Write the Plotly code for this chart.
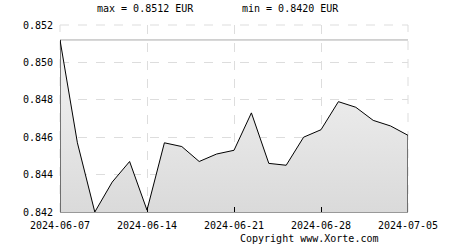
import plotly.graph_objects as go

dates = ["2024-06-07", "2024-06-10", "2024-06-11", "2024-06-12", "2024-06-13",
         "2024-06-14", "2024-06-17", "2024-06-18", "2024-06-19", "2024-06-20",
         "2024-06-21", "2024-06-24", "2024-06-25", "2024-06-26", "2024-06-27",
         "2024-06-28", "2024-07-01", "2024-07-02", "2024-07-03", "2024-07-04",
         "2024-07-05"]
rates = [0.8512, 0.8457, 0.8420, 0.8436, 0.8447,
         0.8421, 0.8457, 0.8455, 0.8447, 0.8451,
         0.8453, 0.8473, 0.8446, 0.8445, 0.8460,
         0.8464, 0.8479, 0.8476, 0.8469, 0.8466,
         0.8461]
tick_dates = ["2024-06-07", "2024-06-14", "2024-06-21", "2024-06-28", "2024-07-05"]
y_ticks = [0.842, 0.844, 0.846, 0.848, 0.850, 0.852]
currency = "EUR"

y_min, y_max = y_ticks[0], y_ticks[-1]
vmax, vmin = max(rates), min(rates)

FONT = "DejaVu Sans Mono"
GRID = "#dddddd"

fig = go.Figure()
fig.add_trace(go.Scatter(
    x=[dates[0]] + dates + [dates[-1]],
    y=[y_min] + rates + [y_min],
    mode="lines",
    line=dict(color="black", width=1),
    fill="toself",
    fillgradient=dict(type="vertical",
                      colorscale=[[0, "#dadada"], [1, "#f4f4f4"]]),
    hoverinfo="skip",
    showlegend=False,
))

# frame edges drawn as dashed grid (top and right)
fig.add_shape(type="line", xref="paper", yref="paper", x0=0, x1=1, y0=1, y1=1,
              line=dict(color=GRID, width=1, dash="dash"), layer="below")
fig.add_shape(type="line", xref="paper", yref="paper", x0=1, x1=1, y0=0, y1=1,
              line=dict(color=GRID, width=1, dash="dash"), layer="below")
fig.add_shape(type="line", xref="paper", yref="paper", x0=0, x1=0, y0=0, y1=1,
              line=dict(color=GRID, width=1, dash="dash"), layer="below")

fig.add_shape(type="line", xref="paper", x0=0, x1=1, yref="y", y0=vmax, y1=vmax,
              line=dict(color="#aaaaaa", width=1), layer="below")

fig.update_layout(
    width=450, height=250,
    margin=dict(l=60, r=30, t=25, b=38),
    paper_bgcolor="white", plot_bgcolor="white",
    font=dict(family=FONT, size=10, color="black"),
    showlegend=False,
    xaxis=dict(
        type="category",
        categoryorder="array", categoryarray=dates,
        range=[0, len(dates) - 1],
        tickvals=tick_dates, ticktext=tick_dates,
        showgrid=True, gridcolor=GRID, griddash="dash", gridwidth=1,
        ticks="inside", ticklen=5, tickcolor="black", tickwidth=1,
        ticklabelstandoff=4,
        showline=True, linecolor="#999999", linewidth=1,
        zeroline=False,
        tickfont=dict(family=FONT, size=10),
    ),
    yaxis=dict(
        range=[y_min, y_max],
        tickvals=y_ticks, ticktext=[f"{v:.3f}" for v in y_ticks],
        showgrid=True, gridcolor=GRID, griddash="dash", gridwidth=1,
        showline=False, zeroline=False, ticks="",
        ticklabelstandoff=6,
        tickfont=dict(family=FONT, size=10),
    ),
    annotations=[
        dict(text=f"max = {vmax:.4f} {currency}", xref="paper", yref="paper",
             x=(148 - 60) / 360, y=1, yshift=17, showarrow=False,
             xanchor="center", yanchor="middle", font=dict(family=FONT, size=10)),
        dict(text=f"min = {vmin:.4f} {currency}", xref="paper", yref="paper",
             x=(298 - 60) / 360, y=1, yshift=17, showarrow=False,
             xanchor="center", yanchor="middle", font=dict(family=FONT, size=10)),
        dict(text="Copyright www.Xorte.com", xref="paper", yref="paper",
             x=(318 - 60) / 360, y=0, yshift=-26, showarrow=False,
             xanchor="center", yanchor="middle", font=dict(family=FONT, size=10)),
    ],
)

fig.write_html("out.html")
